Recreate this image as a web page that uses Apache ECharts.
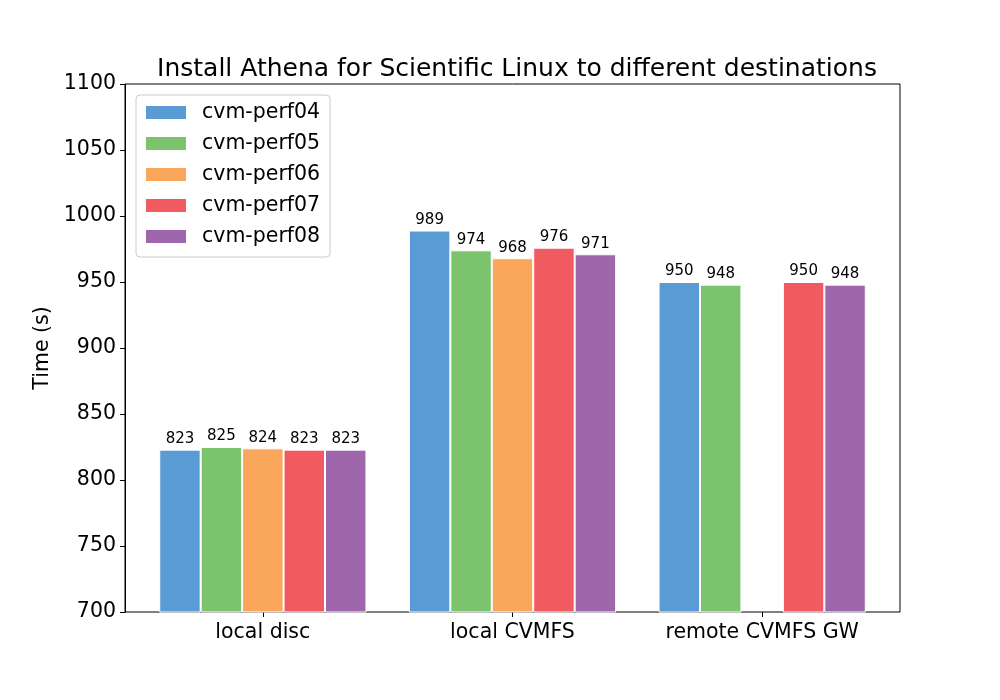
<!DOCTYPE html>
<html><head><meta charset="utf-8">
<script src="https://cdn.jsdelivr.net/npm/echarts@6/dist/echarts.min.js"></script>
<style>html,body{margin:0;padding:0;background:#fff}#c{width:1000px;height:700px}</style>
</head><body><div id="c"></div>
<script>
const categories = ['local disc', 'local CVMFS', 'remote CVMFS GW'];
const seriesNames = ['cvm-perf04', 'cvm-perf05', 'cvm-perf06', 'cvm-perf07', 'cvm-perf08'];
const perf04 = [823, 989, 950];
const perf05 = [825, 974, 948];
const perf06 = [824, 968, null];
const perf07 = [823, 976, 950];
const perf08 = [823, 971, 948];
const colors = ['#5b9bd5', '#7bc46d', '#faa75b', '#f15a60', '#9e67ab'];
const values = [perf04, perf05, perf06, perf07, perf08];
const font = 'DejaVu Sans';

const chart = echarts.init(document.getElementById('c'), null, {renderer: 'canvas'});
chart.setOption({
  animation: false,
  textStyle: {fontFamily: font},
  title: {
    text: 'Install Athena for Scientific Linux to different destinations',
    left: 512, top: 52, textAlign: 'center',
    textStyle: {fontFamily: font, fontSize: 25, fontWeight: 'normal', color: '#000'}
  },
  grid: [
    {left: 125, right: 100, top: 84, bottom: 88, show: true, borderColor: '#000', borderWidth: 1, containLabel: false},
    {left: 138, right: 113, top: 84, bottom: 88, show: false, containLabel: false}
  ],
  legend: {
    orient: 'vertical', left: 136, top: 95,
    data: seriesNames,
    itemWidth: 42, itemHeight: 15, itemGap: 10,
    padding: [7, 10, 10, 8],
    borderColor: '#ccc', borderWidth: 1, borderRadius: 4, backgroundColor: 'rgba(255,255,255,0.8)',
    textStyle: {fontFamily: font, fontSize: 20.5, color: '#000', padding: [0, 0, 0, 10]},
    icon: 'rect'
  },
  xAxis: [
    {gridIndex: 0, type: 'category', data: categories, show: false},
    {
      gridIndex: 1, type: 'category', data: categories,
      axisLine: {show: false},
      axisTick: {show: true, alignWithLabel: true, interval: 0, length: 5, lineStyle: {color: '#000', width: 1}},
      axisLabel: {fontFamily: font, fontSize: 20.5, color: '#000', margin: 10, interval: 0, hideOverlap: false}
    }
  ],
  yAxis: [
    {
      gridIndex: 0, type: 'value', min: 700, max: 1100, interval: 50,
      name: 'Time (s)', nameLocation: 'middle', nameGap: 61,
      nameTextStyle: {fontFamily: font, fontSize: 20.5, color: '#000'},
      axisLine: {show: true, lineStyle: {color: '#000', width: 1}},
      axisTick: {show: true, length: 5, lineStyle: {color: '#000'}},
      splitLine: {show: false},
      axisLabel: {fontFamily: font, fontSize: 20.5, color: '#000', margin: 9, formatter: v => String(v)}
    },
    {gridIndex: 1, type: 'value', min: 700, max: 1100, interval: 50, show: false, splitLine: {show: false}}
  ],
  series: seriesNames.map((n, i) => ({
    name: n, type: 'bar', data: values[i], xAxisIndex: 1, yAxisIndex: 1,
    barGap: '0%', barCategoryGap: '17%',
    itemStyle: {color: colors[i], borderColor: '#fff', borderWidth: 1},
    label: {show: true, position: 'top', distance: 3, fontFamily: font, fontSize: 15, color: '#000'}
  }))
});
</script></body></html>
